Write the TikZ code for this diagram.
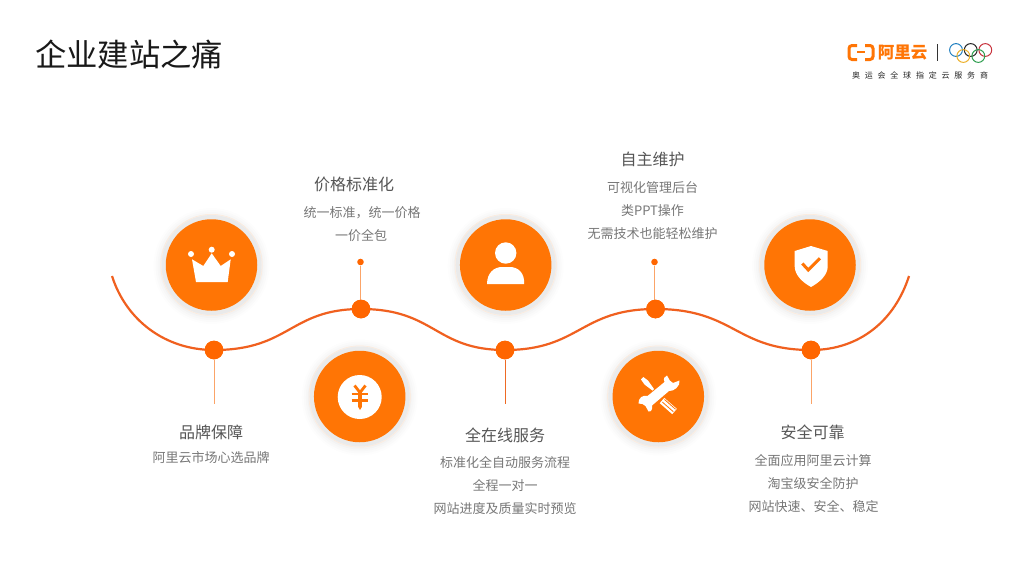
\documentclass[tikz,border=0pt]{standalone}
\usepackage{fontspec}
\setmainfont{Noto Sans CJK SC}
\newfontfamily\spaced[LetterSpace=60]{Noto Sans CJK SC}
\definecolor{discc}{HTML}{FF7505}
\definecolor{wave}{HTML}{F0601F}
\definecolor{dotc}{HTML}{FF6600}
\definecolor{head}{HTML}{555555}
\definecolor{body}{HTML}{777777}
\definecolor{stemlight}{HTML}{FBA468}
\definecolor{stemdark}{HTML}{EE6A24}
\begin{document}
\begin{tikzpicture}[x=1pt,y=-1pt,
  discn/.style={circle,fill=discc,inner sep=0,minimum size=91.5pt},
  dotn/.style={circle,fill=dotc,inner sep=0,minimum size=18.6pt},
  tipn/.style={circle,fill=dotc,inner sep=0,minimum size=6.6pt},
  headt/.style={text=head,inner sep=0,font=\fontsize{16}{16}\selectfont},
  bodyt/.style={text=body,inner sep=0,font=\fontsize{13}{13}\selectfont},
  stem/.style={line width=1pt,draw=stemlight},
  glyph/.style={fill=white,draw=none},
  cut/.style={fill=discc,draw=none},
  ink/.style={draw=discc}]
\useasboundingbox (0,0) rectangle (1024,576);
\fill[white] (0,0) rectangle (1024,576);
\node[inner sep=0,anchor=west,font=\fontsize{31.3}{31.3}\selectfont,text=black!90] (title) at (35,54) {企业建站之痛};

% logo
\draw[line width=3pt,ink,rounded corners=3pt] (857,45.5) -- (849,45.5) -- (849,59.5) -- (857,59.5);
\draw[line width=3pt,ink,rounded corners=3pt] (865,45.5) -- (873,45.5) -- (873,59.5) -- (865,59.5);
\draw[line width=1.8pt,ink] (857,52.2) -- (865,52.2);
\node[inner sep=0,text=discc,font=\fontsize{16.5}{16.5}\selectfont\bfseries] (brand) at (902.5,52.5) {阿里云};
\draw[line width=0.8pt,black!80] (937.3,44) -- (937.3,61);
\foreach \px/\py/\pc in {956/50/1F7FC0,970.7/50/222222,985.3/50/C8323C,963.3/56/EDB02A,978.3/56/2E9E4F}{
  \definecolor{ringc}{HTML}{\pc}
  \draw[line width=1pt,draw=ringc] (\px,\py) circle[radius=6.4];
}
\node[inner sep=0,text=black!85,font=\fontsize{8}{8}\selectfont\spaced] (slogan) at (920,75.5) {奥运会全球指定云服务商};

% wave
\coordinate (w0) at (112,276);
\coordinate (w6) at (909,276);
\node[dotn] (d1) at (214,350) {};
\node[dotn] (d2) at (361,309) {};
\node[dotn] (d3) at (505,350) {};
\node[dotn] (d4) at (655.5,309) {};
\node[dotn] (d5) at (811,350) {};
\draw[line width=2.2pt,draw=wave] (w0) .. controls (126,320) and (165,350) .. (d1.center)
  .. controls (290,350) and (290,309) .. (d2.center)
  .. controls (435,309) and (435,350) .. (d3.center)
  .. controls (580,350) and (580,309) .. (d4.center)
  .. controls (735,309) and (735,350) .. (d5.center)
  .. controls (860,350) and (895,320) .. (w6);
% stems
\coordinate (s1) at (214,404);
\coordinate (s3) at (505,404);
\coordinate (s5) at (811,404);
\node[tipn] (t2) at (360.5,262) {};
\node[tipn] (t4) at (654.5,262) {};
\draw[stem] (d1) -- (s1);
\draw[stem,draw=stemdark] (d3) -- (s3);
\draw[stem] (d5) -- (s5);
\draw[stem] (t2) -- (t2 |- d2.center);
\draw[stem] (t4) -- (t4 |- d4.center);
\foreach \x/\y in {214/350,361/309,505/350,655.5/309,811/350}{
  \node[dotn] at (\x,\y) {};
}

% discs
\foreach \nm/\x/\y in {c1/211.5/265,c2/359.7/396.5,c3/505.7/265,c4/658.3/396.5,c5/810/265}{
  \foreach \r/\op in {58/.008,56/.01,54/.012,52/.014}{
    \fill[black,opacity=\op] (\x,\y+1) circle[radius=\r];
  }
  \draw[line width=.5pt,draw=discc!15] (\x,\y) circle[radius=50.7];
  \fill[black,opacity=.035] (\x,\y) circle[radius=50];
  \node[discn] (\nm) at (\x,\y) {};
}

% crown
\fill[glyph] (196,282) -- (227.7,282) -- (230.7,259.3) -- (220.7,266) -- (211.7,253.3) -- (203.3,266) -- (192,259.3) -- cycle;
\foreach \x/\y in {191/254,211.7/249.7,232/254} \fill[glyph] (\x,\y) circle[radius=3];

% yen
\fill[glyph] (359.7,397) circle[radius=22];
\draw[line width=2.8pt,ink] (354.5,385.5) -- (360,392.5) -- (365.5,385.5);
\draw[line width=2.8pt,ink] (351.7,394) -- (368.3,394) (351.7,400.5) -- (368.3,400.5);
\fill[cut] (358.2,392) -- (361.8,392) -- (361.8,407) -- (360,410) -- (358.2,407) -- cycle;

% person
\fill[glyph] (505.7,253) circle[radius=10.7];
\fill[glyph] (487,284) .. controls (487,273) and (494,267) .. (502,267) -- (510,267) .. controls (518,267) and (525,273) .. (524,284) -- cycle;

% tools
\fill[glyph] (641,379.5) -- (643.3,377) -- (648,380.5) -- (654,389) -- (652.5,390.5) -- (644.5,384.5) -- cycle;
\draw[line width=7pt,white] (662,400.5) -- (674.5,411.5);
\draw[line width=.8pt,ink] (664.5,399.5) -- (675.5,409.2) (662.3,402) -- (673.3,411.7);
\fill[glyph] (667,375.5) -- (669.8,380.5) -- (673,383) -- (679.5,380.5)
  .. controls (680.5,386) and (674,391.5) .. (669,391) -- (652,405.5)
  .. controls (653,409) and (651,412) .. (648.5,411.5) -- (645.5,406) -- (642.5,404) -- (638.5,403.5)
  .. controls (638,398) and (643,394.5) .. (647.5,396) -- (664.5,382)
  .. controls (663,378.5) and (664.5,376.5) .. (667,375.5) -- cycle;

% shield
\fill[glyph] (811,246) -- (794.7,251) -- (794.7,266.7) .. controls (795,275) and (802,282) .. (811,287) .. controls (820,282) and (827.5,275) .. (827.7,266.7) -- (827.7,251) -- cycle;
\draw[line width=3pt,ink] (802.3,263.5) -- (808.3,270) -- (820,258.3);

% text
\node[headt] (h1) at (211,432.5) {品牌保障};
\node[bodyt] (b1) at (211,457.5) {阿里云市场心选品牌};
\node[headt] (h2) at (354,184.5) {价格标准化};
\node[bodyt] (b2a) at (362,212.5) {统一标准，统一价格};
\node[bodyt] (b2b) at (361,235.5) {一价全包};
\node[headt] (h3) at (505,435.5) {全在线服务};
\node[bodyt] (b3a) at (505,462.5) {标准化全自动服务流程};
\node[bodyt] (b3b) at (505,485.5) {全程一对一};
\node[bodyt] (b3c) at (505,509) {网站进度及质量实时预览};
\node[headt] (h4) at (652.5,159.5) {自主维护};
\node[bodyt] (b4a) at (652.5,187.5) {可视化管理后台};
\node[bodyt] (b4b) at (652.5,210.5) {类PPT操作};
\node[bodyt] (b4c) at (652.5,233.5) {无需技术也能轻松维护};
\node[headt] (h5) at (812.5,432.5) {安全可靠};
\node[bodyt] (b5a) at (813,460.5) {全面应用阿里云计算};
\node[bodyt] (b5b) at (813,483.5) {淘宝级安全防护};
\node[bodyt] (b5c) at (813.5,506.5) {网站快速、安全、稳定};
\end{tikzpicture}
\end{document}
